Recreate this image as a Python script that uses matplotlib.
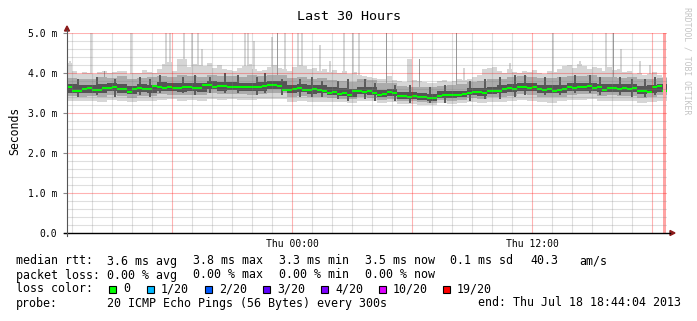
"""SmokePing style latency graph: smoke bands, median steps, loss legend."""

import matplotlib

matplotlib.use("Agg")
import matplotlib.pyplot as plt  # noqa: E402
import numpy as np  # noqa: E402
from matplotlib.lines import Line2D  # noqa: E402
from matplotlib.patches import Polygon, Rectangle  # noqa: E402

W, H = 697, 321
MONO = "DejaVu Sans Mono"

# hours relative to Thu 00:00; graph covers Wed 12:44 .. Thu 18:44
T_START = -11.2667
T_END = 18.7333

# median rtt (ms), one value per 15 minutes
median = [
    3.66, 3.56, 3.55, 3.60, 3.62, 3.58, 3.58, 3.62, 3.63, 3.65,
    3.60, 3.59, 3.52, 3.60, 3.62, 3.60, 3.61, 3.67, 3.66, 3.63,
    3.64, 3.62, 3.63, 3.65, 3.64, 3.62, 3.63, 3.71, 3.69, 3.65,
    3.67, 3.68, 3.66, 3.66, 3.64, 3.65, 3.66, 3.64, 3.66, 3.68,
    3.70, 3.71, 3.68, 3.58, 3.57, 3.60, 3.62, 3.58, 3.57, 3.59,
    3.57, 3.54, 3.51, 3.53, 3.48, 3.50, 3.46, 3.55, 3.56, 3.53,
    3.54, 3.50, 3.46, 3.47, 3.53, 3.49, 3.43, 3.42, 3.41, 3.42,
    3.41, 3.39, 3.37, 3.38, 3.43, 3.46, 3.44, 3.45, 3.44, 3.47,
    3.50, 3.53, 3.52, 3.50, 3.54, 3.56, 3.55, 3.60, 3.62, 3.60,
    3.64, 3.66, 3.63, 3.65, 3.59, 3.58, 3.60, 3.56, 3.57, 3.61,
    3.64, 3.62, 3.66, 3.64, 3.67, 3.63, 3.65, 3.58, 3.62, 3.63,
    3.61, 3.62, 3.60, 3.62, 3.56, 3.55, 3.53, 3.64, 3.67, 3.56,
]

# upper edge of the light smoke, per 15 minutes
smoke_max = [
    4.25, 4.05, 3.98, 4.02, 4.00, 3.97, 4.03, 4.06, 4.00, 4.02,
    4.05, 4.04, 3.98, 4.01, 3.99, 4.08, 4.02, 4.00, 4.10, 4.22,
    4.28, 4.05, 4.36, 4.36, 4.15, 4.22, 4.20, 4.18, 4.25, 4.12,
    4.20, 4.10, 4.08, 4.06, 4.12, 4.18, 4.22, 4.10, 4.05, 4.08,
    4.15, 4.20, 4.12, 4.10, 4.05, 4.15, 4.20, 4.18, 4.10, 4.12,
    4.05, 4.10, 4.02, 4.08, 4.00, 4.05, 3.98, 4.02, 3.95, 3.92,
    3.90, 3.88, 3.85, 3.86, 3.92, 3.82, 3.80, 3.78, 4.35, 3.82,
    3.80, 3.78, 3.76, 3.75, 3.80, 3.82, 3.78, 3.80, 3.84, 3.82,
    3.86, 3.90, 3.95, 4.10, 4.12, 4.15, 4.05, 4.00, 4.10, 4.02,
    4.00, 4.05, 4.02, 4.08, 4.00, 3.98, 4.05, 4.02, 4.10, 4.18,
    4.20, 4.12, 4.22, 4.18, 4.10, 4.15, 4.12, 4.05, 4.15, 4.08,
    4.10, 4.02, 4.05, 3.98, 4.00, 3.95, 3.98, 4.02, 3.96, 3.90,
]

# inner smoke bands, per 30 minutes
smoke_min = [
    3.31, 3.29, 3.30, 3.28, 3.32, 3.30, 3.27, 3.30, 3.31, 3.33,
    3.34, 3.31, 3.33, 3.30, 3.36, 3.33, 3.35, 3.32, 3.33, 3.34,
    3.36, 3.35, 3.28, 3.30, 3.27, 3.28, 3.28, 3.27, 3.26, 3.30,
    3.29, 3.25, 3.27, 3.22, 3.22, 3.21, 3.20, 3.24, 3.23, 3.24,
    3.27, 3.26, 3.28, 3.28, 3.30, 3.33, 3.31, 3.28, 3.26, 3.29,
    3.32, 3.33, 3.34, 3.30, 3.31, 3.29, 3.30, 3.26, 3.28, 3.31,
]
mid_lo = [
    3.42, 3.40, 3.43, 3.41, 3.45, 3.42, 3.38, 3.42, 3.43, 3.47,
    3.46, 3.44, 3.45, 3.44, 3.50, 3.47, 3.48, 3.47, 3.46, 3.47,
    3.50, 3.51, 3.40, 3.43, 3.40, 3.40, 3.37, 3.35, 3.34, 3.39,
    3.38, 3.33, 3.35, 3.30, 3.29, 3.28, 3.26, 3.32, 3.31, 3.32,
    3.37, 3.36, 3.39, 3.41, 3.43, 3.47, 3.46, 3.41, 3.40, 3.41,
    3.45, 3.47, 3.47, 3.43, 3.44, 3.43, 3.43, 3.38, 3.41, 3.44,
]
core_lo = [
    3.51, 3.49, 3.51, 3.50, 3.54, 3.51, 3.47, 3.52, 3.51, 3.56,
    3.55, 3.53, 3.54, 3.53, 3.60, 3.56, 3.57, 3.56, 3.55, 3.56,
    3.59, 3.60, 3.49, 3.52, 3.48, 3.49, 3.45, 3.43, 3.41, 3.47,
    3.46, 3.40, 3.42, 3.36, 3.35, 3.33, 3.31, 3.38, 3.38, 3.39,
    3.44, 3.43, 3.47, 3.49, 3.52, 3.56, 3.55, 3.50, 3.49, 3.50,
    3.54, 3.56, 3.56, 3.52, 3.53, 3.52, 3.52, 3.47, 3.50, 3.53,
]
core_hi = [
    3.72, 3.70, 3.71, 3.72, 3.76, 3.73, 3.68, 3.72, 3.71, 3.77,
    3.75, 3.74, 3.76, 3.74, 3.80, 3.77, 3.78, 3.76, 3.76, 3.77,
    3.79, 3.81, 3.70, 3.72, 3.69, 3.70, 3.64, 3.62, 3.60, 3.66,
    3.65, 3.58, 3.60, 3.53, 3.52, 3.50, 3.48, 3.55, 3.55, 3.56,
    3.62, 3.62, 3.66, 3.69, 3.72, 3.76, 3.75, 3.70, 3.69, 3.70,
    3.74, 3.76, 3.76, 3.72, 3.73, 3.72, 3.72, 3.67, 3.70, 3.73,
]
mid_hi = [
    3.88, 3.84, 3.86, 3.90, 3.88, 3.92, 3.85, 3.87, 3.89, 3.93,
    3.90, 3.94, 3.92, 3.89, 3.95, 3.92, 3.93, 3.91, 3.94, 3.92,
    3.95, 3.96, 3.88, 3.90, 3.86, 3.87, 3.82, 3.80, 3.78, 3.84,
    3.82, 3.76, 3.74, 3.68, 3.66, 3.65, 3.64, 3.68, 3.70, 3.72,
    3.78, 3.80, 3.84, 3.86, 3.90, 3.92, 3.90, 3.87, 3.88, 3.90,
    3.93, 3.92, 3.94, 3.90, 3.89, 3.88, 3.90, 3.85, 3.86, 3.88,
]

# dark streaks in the smoke: time (h), low (ms), high (ms)
streak_t = [
    -10.70, -9.75, -8.85, -7.60, -7.10, -6.60, -5.45, -4.85, -4.10, -3.35,
    -2.70, -1.75, -1.35, -0.50, 0.40, 1.00, 1.50, 2.30, 2.80, 3.65,
    4.15, 5.15, 5.90, 6.90, 7.65, 8.90, 9.65, 10.40, 11.15, 11.65,
    12.65, 13.40, 14.15, 14.90, 15.40, 16.40, 17.00, 17.65, 18.15,
]
streak_lo = [
    3.40, 3.45, 3.40, 3.45, 3.40, 3.50, 3.50, 3.45, 3.50, 3.50,
    3.50, 3.45, 3.50, 3.45, 3.40, 3.40, 3.40, 3.35, 3.30, 3.35,
    3.30, 3.30, 3.25, 3.25, 3.25, 3.30, 3.35, 3.35, 3.40, 3.45,
    3.45, 3.45, 3.50, 3.50, 3.45, 3.45, 3.40, 3.40, 3.45,
]
streak_hi = [
    3.85, 3.90, 3.85, 3.90, 3.85, 3.95, 3.90, 3.95, 3.90, 4.00,
    3.95, 3.90, 4.00, 3.85, 3.85, 3.90, 3.80, 3.80, 3.85, 3.85,
    3.75, 3.70, 3.70, 3.65, 3.70, 3.80, 3.85, 3.90, 3.95, 3.95,
    3.90, 3.90, 3.95, 3.95, 3.90, 3.90, 3.85, 3.85, 3.90,
]

# single outlier pings: time (h), top (ms)
spike_t = [
    -11.10, -10.05, -8.05, -6.30, -6.10, -5.40, -5.00, -4.70, -4.50, -3.60,
    -2.35, -2.20, -1.90, -1.00, -0.35, 0.30, 0.50, 1.40, 1.90, 2.60,
    3.05, 3.35, 8.60, 10.15, 10.90, 13.05, 14.40, 15.70, 16.45, 17.40,
    17.90,
]
spike_top = [
    4.30, 5.00, 5.00, 5.00, 5.00, 5.00, 5.00, 5.00, 4.60, 4.20,
    5.00, 5.00, 4.80, 4.90, 5.00, 5.00, 5.00, 4.70, 4.30, 5.00,
    5.00, 5.00, 4.12, 4.15, 4.25, 5.00, 4.30, 5.00, 4.60, 4.30,
    4.20,
]
dark_spike_t = [-9.40, -0.75, 4.70, 6.35, 8.20, 16.05]
dark_spike_top = [4.05, 5.00, 5.00, 4.35, 5.00, 5.00]

y_ticks = [0, 1, 2, 3, 4, 5]
y_labels = ["0.0", "1.0 m", "2.0 m", "3.0 m", "4.0 m", "5.0 m"]
x_ticks = [0, 12]
x_labels = ["Thu 00:00", "Thu 12:00"]

loss_labels = ["0", "1/20", "2/20", "3/20", "4/20", "10/20", "19/20"]
loss_colors = ["#00ff00", "#00b8ff", "#0059ff", "#5e00ff", "#7e00ff", "#dd00ff", "#ff0000"]


def fx(px):
    return px / W


def fy(py):
    return 1 - py / H


fig = plt.figure(figsize=(W / 100, H / 100), dpi=100)
fig.patch.set_facecolor("white")
ax = fig.add_axes([fx(67), fy(233), 600 / W, 200 / H])
ax.set_xlim(T_START, T_END)
ax.set_ylim(0, 5)
for s in ax.spines.values():
    s.set_visible(False)

t15 = T_START + 0.25 * np.arange(len(median))
t30 = T_START + 0.5 * np.arange(len(smoke_min))

LIGHT = "#d6d6d6"
ax.bar(spike_t, np.array(spike_top) - 3.6, bottom=3.6, width=0.09,
       align="center", color=LIGHT, lw=0, zorder=2)
ax.bar(t15, np.array(smoke_max) - 3.6, bottom=3.6, width=0.25,
       align="edge", color=LIGHT, lw=0, zorder=2)
ax.bar(t30, np.array(mid_hi) - np.array(smoke_min), bottom=smoke_min, width=0.5,
       align="edge", color=LIGHT, lw=0, zorder=2)
ax.bar(dark_spike_t, np.array(dark_spike_top) - 3.6, bottom=3.6, width=0.08,
       align="center", color="#9a9a9a", lw=0, zorder=3)
ax.bar(t30, np.array(mid_hi) - np.array(mid_lo), bottom=mid_lo, width=0.5,
       align="edge", color="#ababab", lw=0, zorder=3)
ax.bar(streak_t, np.array(streak_hi) - np.array(streak_lo), bottom=streak_lo,
       width=0.1, align="center", color="#5c5c5c", lw=0, zorder=3.5)
ax.bar(t30, np.array(core_hi) - np.array(core_lo), bottom=core_lo, width=0.5,
       align="edge", color="#555555", lw=0, zorder=4)
ax.hlines(median, t15, t15 + 0.25, color="#00ff00", lw=1.5, zorder=5)

# unknown data at the very end
ax.axvspan(18.55, 18.70, color="#ffa4a4", lw=0, zorder=6)

# grid on top, translucent like rrdtool: gray every hour / 0.2 ms, red every 6 h / 1 ms
for h in range(-11, 19):
    if h % 6 == 0:
        ax.axvline(h, color="#ff0000", alpha=0.3, lw=0.8, zorder=7)
    else:
        ax.axvline(h, color="#808080", alpha=0.25, lw=0.8, zorder=7)
for k in range(1, 26):
    if k % 5 == 0:
        ax.axhline(k * 0.2, color="#ff0000", alpha=0.3, lw=0.8, zorder=7)
    else:
        ax.axhline(k * 0.2, color="#808080", alpha=0.25, lw=0.8, zorder=7)

ax.set_yticks(y_ticks, y_labels)
ax.set_xticks(x_ticks, x_labels)
ax.tick_params(axis="y", length=3, width=0.8, color="#888888", pad=4,
               labelsize=7.0, labelfontfamily=MONO)
ax.tick_params(axis="x", length=0, pad=4.5, labelsize=7.0, labelfontfamily=MONO)

# axis lines with arrow heads
fig.add_artist(Line2D([fx(64), fx(670)], [fy(233), fy(233)], color="black", lw=1.0))
fig.add_artist(Line2D([fx(67), fx(67)], [fy(236), fy(30)], color="#555555", lw=0.8))
fig.add_artist(Polygon([[fx(670), fy(230.5)], [fx(675), fy(233)], [fx(670), fy(235.5)]],
                       closed=True, color="#8b1a1a", transform=fig.transFigure))
fig.add_artist(Polygon([[fx(64.5), fy(31)], [fx(67), fy(26)], [fx(69.5), fy(31)]],
                       closed=True, color="#8b1a1a", transform=fig.transFigure))

fig.text(fx(349), fy(16), "Last 30 Hours", ha="center", va="center",
         family=MONO, fontsize=9.6)
fig.text(fx(15), fy(131), "Seconds", rotation=90, ha="center", va="center",
         family=MONO, fontsize=8.3)
fig.text(fx(687), fy(61), "RRDTOOL / TOBI OETIKER", rotation=270, ha="center",
         va="center", family=MONO, fontsize=5.9, color="#c4c4c4")

# legend
LF = 8.4
rows = [
    (261, [(16, "median rtt:"), (107, "3.6 ms avg"), (193, "3.8 ms max"),
           (279, "3.3 ms min"), (365, "3.5 ms now"), (450, "0.1 ms sd"),
           (530, "40.3"), (579, "am/s")]),
    (275, [(16, "packet loss:"), (107, "0.00 % avg"), (193, "0.00 % max"),
           (279, "0.00 % min"), (365, "0.00 % now")]),
    (289, [(16, "loss color:")]),
    (303, [(16, "probe:"), (107, "20 ICMP Echo Pings (56 Bytes) every 300s"),
           (478, "end: Thu Jul 18 18:44:04 2013")]),
]
for y, items in rows:
    for x, s in items:
        fig.text(fx(x), fy(y), s, ha="left", va="center", family=MONO, fontsize=LF)

box_x = [109, 147, 205, 263, 321, 379, 443]
for bx, lab, col in zip(box_x, loss_labels, loss_colors):
    fig.add_artist(Rectangle((fx(bx), fy(293)), 7 / W, 7 / H, facecolor=col,
                             edgecolor="black", lw=0.8, transform=fig.transFigure))
    fig.text(fx(bx + 14), fy(289), lab, ha="left", va="center", family=MONO, fontsize=LF)

fig.savefig("out.png", dpi=100, facecolor="white")
